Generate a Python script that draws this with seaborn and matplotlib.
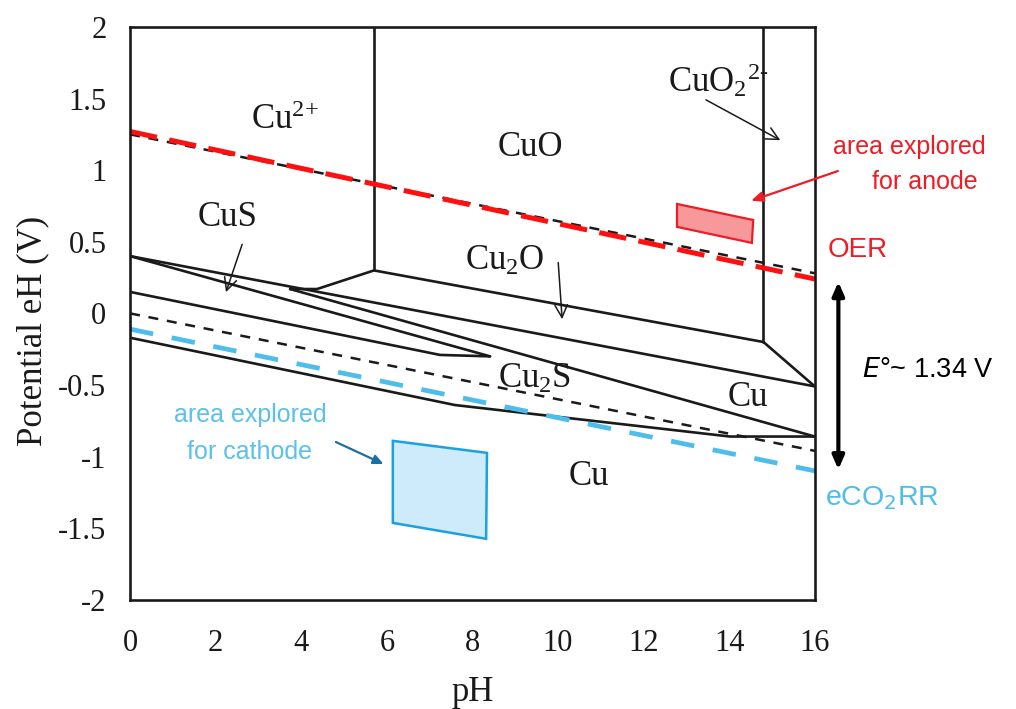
import numpy as np
import pandas as pd
import matplotlib
matplotlib.use("Agg")
import matplotlib.pyplot as plt
import seaborn as sns

# ---------------- data ----------------
x_ticks = [0, 2, 4, 6, 8, 10, 12, 14, 16]
y_ticks = [-2, -1.5, -1, -0.5, 0, 0.5, 1, 1.5, 2]
y_tick_labels = ["-2", "-1.5", "-1", "-0.5", "0", "0.5", "1", "1.5", "2"]

# solid phase boundaries (pH, E)
cu2_cuo_ph = [5.70, 5.70]
cu2_cuo_e = [2.00, 0.30]
cuo_cuo2_ph = [14.80, 14.80]
cuo_cuo2_e = [2.00, -0.20]
cuo_cu2o_ph = [3.74, 4.37, 5.70, 14.80, 16.00]
cuo_cu2o_e = [0.17, 0.17, 0.30, -0.20, -0.51]
cu2o_cu_ph = [0.00, 16.00]
cu2o_cu_e = [0.40, -0.51]
cus_upper_ph = [0.00, 8.41]
cus_upper_e = [0.40, -0.30]
cus_lower_ph = [0.00, 7.24, 8.41]
cus_lower_e = [0.15, -0.29, -0.30]
cu_cu2s_ph = [3.74, 16.00]
cu_cu2s_e = [0.17, -0.86]
cu2s_cu_ph = [0.00, 7.59, 14.02, 16.00]
cu2s_cu_e = [-0.17, -0.64, -0.86, -0.86]

# water stability and reaction lines
line_ph = [0.0, 16.0]
h2_e = [0.00, -0.96]
o2_e = [1.25, 0.28]
oer_e = [1.27, 0.24]
co2rr_e = [-0.11, -1.10]

# explored areas
anode_ph = [12.78, 14.56, 14.53, 12.78]
anode_e = [0.764, 0.652, 0.492, 0.604]
cathode_ph = [6.14, 8.34, 8.32, 6.14]
cathode_e = [-0.89, -0.974, -1.574, -1.463]

# region labels
region_text = ["Cu$^{2{+}}$", "CuO", "Cu$_2$S", "Cu", "Cu"]
region_ph = [3.62, 9.35, 9.46, 14.44, 10.72]
region_e = [1.35, 1.155, -0.46, -0.59, -1.14]

# labels with arrows: text, text pos, arrow tip
arrow_text = ["CuO$_2$$^{2\\text{-}}$", "CuS", "Cu$_2$O"]
arrow_text_ph = [13.74, 2.29, 8.76]
arrow_text_e = [1.62, 0.667, 0.36]
arrow_start_ph = [13.40, 2.64, 10.00]
arrow_start_e = [1.50, 0.50, 0.374]
arrow_tip_ph = [15.25, 2.22, 10.10]
arrow_tip_e = [1.20, 0.13, -0.06]

# ---------------- style ----------------
sns.set_style("white")
plt.rcParams["font.family"] = ["Liberation Serif", "DejaVu Serif"]
plt.rcParams["mathtext.fontset"] = "custom"
plt.rcParams["mathtext.rm"] = "Liberation Serif"
plt.rcParams["mathtext.it"] = "Liberation Serif:italic"

fig = plt.figure(figsize=(10.16, 7.09), dpi=100)
ax = fig.add_axes([0.128, 0.154, 0.674, 0.808])

# solid boundaries via seaborn
segs = [
    (cu2_cuo_ph, cu2_cuo_e), (cuo_cuo2_ph, cuo_cuo2_e), (cuo_cu2o_ph, cuo_cu2o_e),
    (cu2o_cu_ph, cu2o_cu_e), (cus_upper_ph, cus_upper_e), (cus_lower_ph, cus_lower_e),
    (cu_cu2s_ph, cu_cu2s_e), (cu2s_cu_ph, cu2s_cu_e),
]
rows = []
for i, (px, py) in enumerate(segs):
    for a, b in zip(px, py):
        rows.append({"pH": a, "E": b, "seg": i})
df = pd.DataFrame(rows)
sns.lineplot(data=df, x="pH", y="E", units="seg", estimator=None, sort=False,
             color="#1a1a1a", lw=1.9, ax=ax)

def dline(yvals, color, lw, dashes):
    d = pd.DataFrame({"pH": line_ph, "E": yvals})
    l = sns.lineplot(data=d, x="pH", y="E", color=color, lw=lw, ax=ax, sort=False)
    l.lines[-1].set_dashes(dashes)

dline(h2_e, "#1a1a1a", 1.8, (4, 3.5))
dline(o2_e, "#1a1a1a", 1.8, (4, 3.5))
dline(co2rr_e, "#4DBDEB", 3.4, (5, 4))
dline(oer_e, "#FF1010", 3.6, (5.5, 2.5))

# explored areas
ax.fill(anode_ph, anode_e, facecolor="#F7999A", edgecolor="#EE1C24", lw=1.6, zorder=4)
ax.fill(cathode_ph, cathode_e, facecolor="#CDEBFA", edgecolor="#1BA1E2", lw=1.8, zorder=4)

# region labels
for t, x, y in zip(region_text, region_ph, region_e):
    ax.text(x, y, t, fontsize=25, ha="center", va="center", color="#1a1a1a")
for t, x, y, sx, sy, tx, ty in zip(arrow_text, arrow_text_ph, arrow_text_e,
                                   arrow_start_ph, arrow_start_e, arrow_tip_ph, arrow_tip_e):
    ax.text(x, y, t, fontsize=25, ha="center", va="center", color="#1a1a1a")
    ax.annotate("", xy=(tx, ty), xytext=(sx, sy),
                arrowprops=dict(arrowstyle="->,head_length=0.9,head_width=0.45",
                                color="#1a1a1a", lw=1.1))

# axes formatting
ax.set_xlim(0, 16)
ax.set_ylim(-2, 2)
ax.set_xticks(x_ticks)
ax.set_yticks(y_ticks)
ax.set_yticklabels(y_tick_labels)
ax.tick_params(direction="out", length=7, width=1.8, labelsize=22, colors="#1a1a1a")
ax.tick_params(axis="x", pad=14)
ax.tick_params(axis="y", pad=10)
for s in ax.spines.values():
    s.set_linewidth(1.9)
    s.set_color("#1a1a1a")
    s.set_visible(True)
ax.set_xlabel("pH", fontsize=25, color="#1a1a1a")
ax.xaxis.set_label_coords(0.5, -0.133)
ax.set_ylabel("Potential eH (V)", fontsize=25, color="#1a1a1a")
ax.yaxis.set_label_coords(-0.118, 0.47)

# annotations in sans-serif
sans = ["Liberation Sans", "DejaVu Sans"]
fig.text(0.895, 0.793, "area explored", fontsize=18, color="#EE1C24", ha="center", va="center", family=sans)
fig.text(0.910, 0.743, "for anode", fontsize=18, color="#EE1C24", ha="center", va="center", family=sans)
ax.annotate("", xy=(14.45, 0.78), xytext=(16.6, 1.0), annotation_clip=False,
            arrowprops=dict(arrowstyle="-|>,head_length=0.7,head_width=0.3", color="#EE1C24", lw=1.6))
fig.text(0.815, 0.647, "OER", fontsize=20, color="#EE1C24", ha="left", va="center", family=sans)

ax.annotate("", xy=(16.55, 0.22), xytext=(16.55, -1.09), annotation_clip=False,
            arrowprops=dict(arrowstyle="<|-|>,head_length=0.8,head_width=0.35", color="black", lw=3,
                            shrinkA=0, shrinkB=0))
fig.text(0.848, 0.478, "$\\mathit{E}$°~ 1.34 V", fontsize=19.5, color="black", ha="left", va="center",
         family=sans, math_fontfamily="dejavusans")

fig.text(0.812, 0.298, "eCO$_2$RR", fontsize=20.5, color="#4DBDEB", ha="left", va="center",
         family=sans, math_fontfamily="dejavusans")

fig.text(0.246, 0.415, "area explored", fontsize=18, color="#5BC0EB", ha="center", va="center", family=sans)
fig.text(0.246, 0.362, "for cathode", fontsize=18, color="#5BC0EB", ha="center", va="center", family=sans)
ax.annotate("", xy=(5.98, -1.06), xytext=(4.75, -0.89),
            arrowprops=dict(arrowstyle="-|>,head_length=0.6,head_width=0.28", color="#1C6FA3", lw=1.6))

fig.savefig("out.png", dpi=100)
